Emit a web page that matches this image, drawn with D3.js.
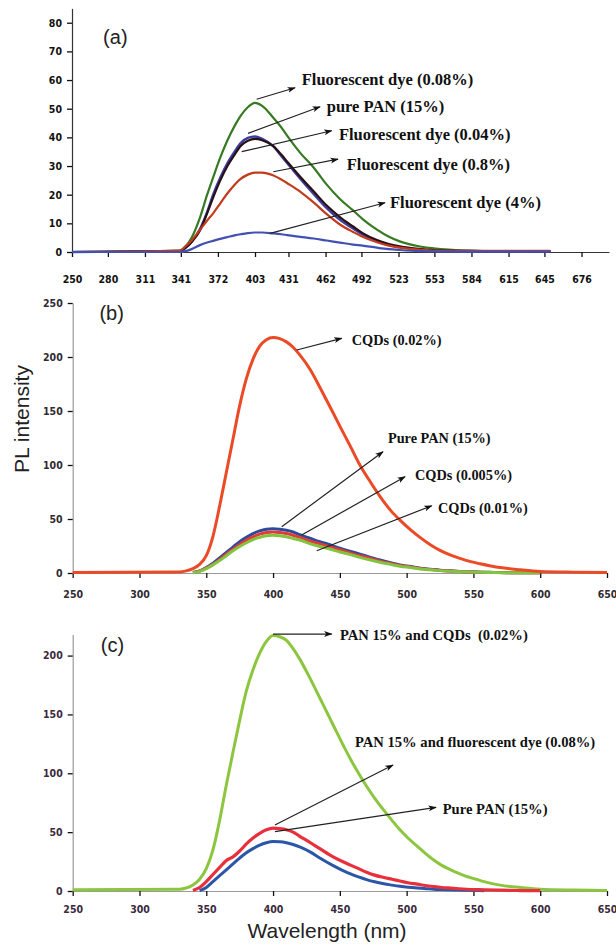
<!DOCTYPE html>
<html>
<head>
<meta charset="utf-8">
<script src="https://cdnjs.cloudflare.com/ajax/libs/d3/7.8.5/d3.min.js"></script>
<style>
  body { margin: 0; background: #fff; }
  .tick text { font-family: "DejaVu Sans Condensed", "DejaVu Sans", sans-serif; font-stretch: condensed; font-weight: bold; font-size: 10.5px; }
  .note { font-family: "Liberation Serif", "Times New Roman", serif; font-weight: bold; fill: #111; }
  .panel-id, .axis-title { font-family: "Liberation Sans", Arial, sans-serif; fill: #222; }
</style>
</head>
<body>
<div id="chart"></div>
<script>
// panel (a): fluorescent dye series
var wlA = [250, 340, 345, 350, 357, 363, 368, 374, 380, 386, 391, 397, 403, 409, 418, 425, 430, 441, 452, 463, 474, 485, 493, 505, 515, 524, 540, 552, 565, 580, 600, 625, 650];
var dye008A = [0, 0.5, 2, 5, 12, 20, 26, 33, 39, 44, 47.5, 50.5, 52, 51, 47, 43.5, 40.5, 34.5, 29.5, 23.5, 18.5, 14.5, 11.5, 7.8, 5.3, 3.7, 2, 1.3, 0.8, 0.5, 0.3, 0.3, 0.2];
var purePanA = [0, 0.3, 1.5, 3.5, 8, 14, 20, 26, 31, 35, 38, 39.8, 40.3, 39.5, 37, 33.5, 31, 25.5, 20.3, 15.3, 11.2, 8.2, 6.1, 3.8, 2.4, 1.7, 0.9, 0.5, 0.3, 0.2, 0.2, 0.1, 0.1];
var dye004A = [0, 0.3, 1.5, 3.5, 7.5, 13.5, 19, 25, 30, 34, 37, 38.8, 39.5, 39, 37, 34, 31.5, 26.2, 21.2, 16.2, 12.2, 8.9, 6.6, 4.2, 2.8, 2, 1.1, 0.7, 0.5, 0.4, 0.3, 0.3, 0.2];
var dye08A = [0, 0.5, 2, 4, 7.7, 11, 13.5, 17, 20.5, 23.5, 25.5, 27, 27.7, 27.7, 26.8, 25.3, 24, 21, 17.3, 13.2, 9.6, 7, 5.3, 3.4, 2.2, 1.5, 0.8, 0.5, 0.4, 0.4, 0.4, 0.4, 0.4];
var dye4A = [0, 0, 0.3, 1, 2.4, 3.3, 3.9, 4.6, 5.2, 5.8, 6.2, 6.6, 6.8, 6.8, 6.5, 6.2, 5.9, 5.3, 4.7, 4.0, 3.3, 2.6, 2.2, 1.5, 1.0, 0.7, 0.3, 0.2, 0.1, 0.1, 0.1, 0.1, 0.1];
var ticksXA = [250, 280, 311, 341, 372, 403, 431, 462, 492, 523, 553, 584, 615, 645, 676];
var ticksYA = [0, 10, 20, 30, 40, 50, 60, 70, 80];

// panel (b): CQDs series
var wlB = [250, 330, 335, 340, 345, 350, 355, 360, 365, 370, 375, 380, 385, 390, 395, 400, 405, 410, 415, 420, 428, 435, 443, 450, 458, 465, 473, 480, 488, 495, 503, 510, 518, 525, 533, 540, 548, 555, 563, 570, 585, 600, 625, 650];
var cqd002B = [0.5, 1, 2, 4, 8, 16, 34, 62, 93, 124, 155, 180, 198, 210, 216, 218, 217, 214, 209, 202, 188, 172, 153, 136, 117, 100, 84, 71, 58, 49, 40, 33, 26, 21, 16.5, 13.5, 10.5, 8.5, 6.5, 5, 3, 1.5, 0.8, 0.5];
var purePanB = [null, null, null, 0.5, 2, 5, 9, 14, 19, 24, 29, 33, 36.5, 39, 40.5, 41, 40.5, 39.5, 38, 35.5, 32, 29, 26, 23, 20, 17.5, 14.5, 12, 9.5, 7.5, 6, 4.5, 3.5, 2.6, 2, 1.5, 1.1, 0.8, 0.6, 0.4, 0.3, 0.2, null, null];
var cqd0005B = [null, null, null, 0.4, 1.8, 4.5, 8, 12.5, 17.5, 22, 26.5, 30.5, 33.5, 36, 37.5, 38, 37.5, 36.5, 35, 33, 29.5, 27, 24, 21.5, 18.5, 16, 13.5, 11, 8.8, 7, 5.5, 4.2, 3.2, 2.4, 1.8, 1.4, 1, 0.7, 0.5, 0.4, 0.3, 0.2, null, null];
var cqd001B = [null, null, null, 0.3, 1.5, 4, 7.5, 11.5, 16, 20.5, 24.5, 28, 31, 33, 34.5, 35, 34.5, 33.5, 32, 30.5, 27, 24.5, 22, 19.5, 17, 14.5, 12, 10, 8, 6.3, 5, 3.8, 2.9, 2.2, 1.6, 1.2, 0.9, 0.6, 0.5, 0.3, 0.2, 0.2, null, null];
var ticksXB = [250, 300, 350, 400, 450, 500, 550, 600, 650];
var ticksYB = [0, 50, 100, 150, 200, 250];

// panel (c): PAN 15% composites
var wlC = [250, 330, 335, 340, 345, 350, 355, 360, 365, 370, 375, 380, 385, 390, 395, 400, 405, 410, 415, 420, 428, 435, 445, 452, 458, 464, 470, 476, 483, 489, 495, 501, 508, 514, 520, 526, 533, 539, 545, 552, 558, 570, 585, 600, 625, 650];
var panCqdC = [1, 1.5, 2.5, 5, 10, 19, 35, 60, 90, 118, 145, 170, 188, 202, 212, 217, 216, 213, 206, 197, 180, 164, 141, 125, 112, 100, 89, 79, 68.5, 60, 52, 45, 38, 32, 26.5, 22, 18, 15, 12.3, 10, 8, 5, 3, 1.5, 0.8, 0.5];
var panDyeC = [null, null, null, 0.5, 3, 8, 14, 20, 26, 29, 34, 40, 45, 49, 52, 53.5, 53, 52, 50, 46.5, 41, 36, 29, 25, 22, 19, 16, 13.5, 11.5, 10, 8.5, 7, 5.8, 4.7, 3.8, 3, 2.4, 1.9, 1.5, 1.2, 1, 0.7, 0.4, 0.3, null, null];
var purePanC = [null, null, null, null, 0.3, 3, 8, 13, 18, 23, 28, 32.5, 36, 39, 41, 42, 41.8, 41, 39.5, 37.5, 33, 28, 21.5, 17.5, 14.5, 12, 9.7, 7.8, 6.1, 5, 4, 3.2, 2.5, 2, 1.5, 1.2, 1, 0.8, 0.6, 0.4, 0.3, null, null, null, null, null];
var ticksYC = [0, 50, 100, 150, 200];

(function() {

  var width = 616, height = 946;

  var svg = d3.select("#chart")
        .append("svg")
        .attr("width", width)
        .attr("height", height)
        .style("display", "block");

  svg.append("rect").attr("width", width).attr("height", height).attr("fill", "#fff");

  svg.append("defs").append("marker")
      .attr("id", "arrow")
      .attr("viewBox", "0 0 10 10")
      .attr("refX", 9).attr("refY", 5)
      .attr("markerWidth", 7).attr("markerHeight", 7)
      .attr("orient", "auto")
    .append("path")
      .attr("d", "M0,1.5 L10,5 L0,8.5 L2.5,5 z")
      .attr("fill", "#111");

  // scales
  var xA = d3.scaleLinear().domain([250, 699]).range([72, 609]);
  var yA = d3.scaleLinear().domain([0, 85]).range([252, 8.4]);
  var xB = d3.scaleLinear().domain([250, 650]).range([72.7, 607]);
  var yB = d3.scaleLinear().domain([0, 250]).range([573, 303]);
  var xC = d3.scaleLinear().domain([250, 650]).range([72.7, 607]);
  var yC = d3.scaleLinear().domain([0, 218]).range([891, 634.4]);

  function drawAxes(x, y, xt, yt, opt) {
    var gx = svg.append("g")
      .attr("transform", "translate(0," + y(0) + ")")
      .call(d3.axisBottom(x).tickValues(xt).tickFormat(d3.format("d"))
        .tickSize(5).tickSizeOuter(0).tickPadding(opt.xPad));
    gx.select(".domain").attr("stroke", opt.axisColor).attr("stroke-width", 1.2);
    gx.selectAll(".tick line").attr("stroke", "#111").attr("stroke-width", 1.3);
    gx.selectAll(".tick text").attr("fill", opt.textColor);

    var gy = svg.append("g")
      .attr("transform", "translate(" + x.range()[0] + ",0)")
      .call(d3.axisLeft(y).tickValues(yt).tickSize(5).tickSizeOuter(0).tickPadding(5));
    gy.select(".domain").attr("stroke", opt.axisColor).attr("stroke-width", 1.2);
    gy.selectAll(".tick line").attr("stroke", "#111").attr("stroke-width", 1.3);
    gy.selectAll(".tick text").attr("fill", opt.textColor);
  }

  function drawLines(x, y, wl, series) {
    var line = d3.line()
      .defined(function(d) { return d[1] != null; })
      .x(function(d) { return x(d[0]); })
      .y(function(d) { return y(d[1]); })
      .curve(d3.curveMonotoneX);

    svg.append("g").selectAll("path")
      .data(series)
      .enter().append("path")
      .attr("d", function(s) { return line(d3.zip(wl, s.values)); })
      .attr("fill", "none")
      .attr("stroke", function(s) { return s.color; })
      .attr("stroke-width", function(s) { return s.width; })
      .attr("stroke-linejoin", "round");
  }

  // notes: from/to/at are in data units (nm, intensity)
  function drawNotes(x, y, notes, size) {
    var g = svg.append("g");
    notes.forEach(function(n) {
      g.append("line")
        .attr("x1", x(n.from[0])).attr("y1", y(n.from[1]))
        .attr("x2", x(n.to[0])).attr("y2", y(n.to[1]))
        .attr("stroke", "#222").attr("stroke-width", 1.2)
        .attr("marker-end", "url(#arrow)");
      g.append("text")
        .attr("class", "note")
        .attr("x", x(n.at[0])).attr("y", y(n.at[1]))
        .attr("font-size", size)
        .style("white-space", "pre")
        .text(n.text);
    });
  }

  function panelId(x, y, txt, at) {
    svg.append("text").attr("class", "panel-id")
      .attr("x", x(at[0])).attr("y", y(at[1]))
      .attr("font-size", 20)
      .text(txt);
  }

  // ---- (a)
  drawAxes(xA, yA, ticksXA, ticksYA, { xPad: 19, axisColor: "#333", textColor: "#111" });
  drawLines(xA, yA, wlA, [
    { values: dye008A, color: "#367a22", width: 2.2 },
    { values: purePanA, color: "#3a3f9e", width: 2.4 },
    { values: dye004A, color: "#2a0f14", width: 2.2 },
    { values: dye08A, color: "#c23b1c", width: 2.2 },
    { values: dye4A, color: "#4250b4", width: 2.2 }
  ]);
  drawNotes(xA, yA, [
    { text: "Fluorescent dye (0.08%)", from: [404.4, 53.3], to: [436.5, 57.3], at: [442.1, 58.3] },
    { text: "pure PAN (15%)", from: [397.2, 41.4], to: [457.4, 50.7], at: [463, 49.0] },
    { text: "Fluorescent dye (0.04%)", from: [391.9, 35.0], to: [467.1, 42.3], at: [473.2, 39.1] },
    { text: "Fluorescent dye (0.8%)", from: [418.3, 28.0], to: [472.4, 32.4], at: [479.7, 28.6] },
    { text: "Fluorescent dye (4%)", from: [415.6, 6.5], to: [511.7, 17.2], at: [515.9, 15.4] }
  ], 16.5);
  panelId(xA, yA, "(a)", [276, 72.5]);

  // ---- (b)
  drawAxes(xB, yB, ticksXB, ticksYB, { xPad: 13, axisColor: "#9a9a9a", textColor: "#2e2a30" });
  drawLines(xB, yB, wlB, [
    { values: purePanB, color: "#2c4a9e", width: 3 },
    { values: cqd0005B, color: "#e23a34", width: 3 },
    { values: cqd001B, color: "#80c440", width: 3 },
    { values: cqd002B, color: "#ea4a26", width: 3 }
  ]);
  drawNotes(xB, yB, [
    { text: "CQDs (0.02%)", from: [417.7, 206.5], to: [451.4, 217.3], at: [458.9, 211.1] },
    { text: "Pure PAN (15%)", from: [406.5, 42.9], to: [482.3, 112.3], at: [486.0, 120.4] },
    { text: "CQDs (0.005%)", from: [421.4, 35.2], to: [498.8, 89.2], at: [506.3, 86.1] },
    { text: "CQDs (0.01%)", from: [432.7, 20.6], to: [518.8, 62.3], at: [523.5, 55.6] }
  ], 14.3);
  panelId(xB, yB, "(b)", [270, yB.invert(320)]);

  // ---- (c)
  drawAxes(xC, yC, ticksXB, ticksYC, { xPad: 10, axisColor: "#9a9a9a", textColor: "#3a2a3c" });
  drawLines(xC, yC, wlC, [
    { values: panCqdC, color: "#8cc63f", width: 3 },
    { values: purePanC, color: "#2b56a8", width: 3 },
    { values: panDyeC, color: "#e8303c", width: 3.2 }
  ]);
  drawNotes(xC, yC, [
    { text: "PAN 15% and CQDs  (0.02%)", from: [400, 218.3], to: [443.9, 218.3], at: [450.1, 213.2] },
    { text: "PAN 15% and fluorescent dye (0.08%)", from: [401.4, 56.1], to: [489.8, 107.0], at: [461.3, 122.6] },
    { text: "Pure PAN (15%)", from: [401.4, 50.4], to: [522.0, 71.1], at: [527.0, 65.4] }
  ], 14.6);
  panelId(xC, yC, "(c)", [271, yC.invert(652)]);

  // axis titles
  svg.append("text").attr("class", "axis-title")
    .attr("transform", "translate(29,419) rotate(-90)")
    .attr("text-anchor", "middle")
    .attr("font-size", 21)
    .text("PL intensity");

  svg.append("text").attr("class", "axis-title")
    .attr("x", 327).attr("y", 938)
    .attr("text-anchor", "middle")
    .attr("font-size", 21)
    .text("Wavelength (nm)");

})();
</script>
</body>
</html>
